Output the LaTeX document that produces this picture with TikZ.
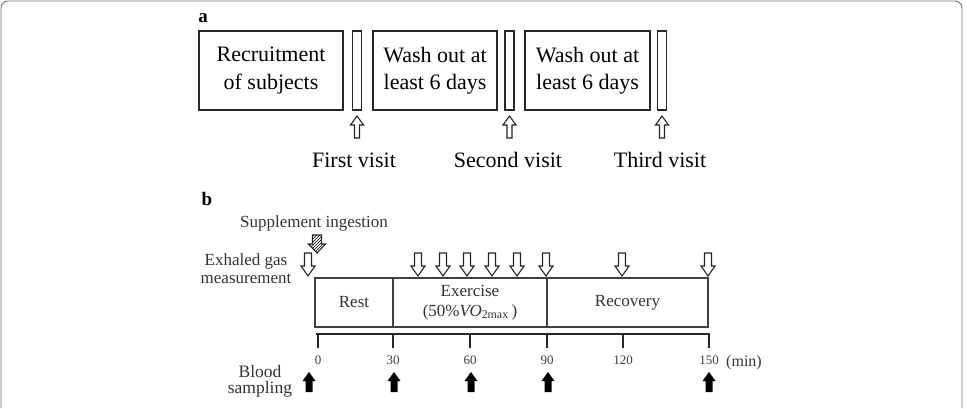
\documentclass[tikz,border=0pt]{standalone}
\usepackage{fontspec}
\setmainfont{Liberation Serif}
\usetikzlibrary{patterns}

\tikzset{
    frame/.style={draw=black!55, line width=0.9pt, rounded corners=7pt},
    panel/.style={inner sep=0pt, font=\fontsize{19}{21}\selectfont\bfseries},
    stagebox/.style={draw=black!85, line width=1.3pt, minimum height=79pt, inner sep=0pt, align=center, font=\fontsize{22}{27.5}\selectfont},
    visitbar/.style={draw=black!85, line width=1.3pt, minimum height=79pt, minimum width=9pt, inner sep=0pt},
    visitlabel/.style={inner sep=0pt, font=\fontsize{22}{26}\selectfont},
    hollowarrow/.style={draw=black!85, line width=1.1pt, fill=white, line join=miter},
    phasebox/.style={draw=black!75, line width=1.1pt, minimum height=49pt, inner sep=0pt, align=center, text=black!80, font=\fontsize{17}{19.5}\selectfont},
    textb/.style={text=black!80, align=center, inner sep=0pt, font=\fontsize{17}{18}\selectfont},
    ticklabel/.style={text=black!75, inner sep=0pt, font=\fontsize{13}{15}\selectfont},
    axis/.style={draw=black!85, line width=2.5pt},
    tick/.style={draw=black!85, line width=2pt},
}

\begin{document}
\begin{tikzpicture}[x=1pt, y=-1pt]
    \useasboundingbox (0,0) rectangle (967,408);

    % Frame
    \draw[frame] (1,408) -- (1,1) -- (962,1) -- (962,408);

    % Part a: visits
    \node[panel] (lbla) at (203,18) {a};
    \node[stagebox, minimum width=144pt] (recruit) at (271,70.5) {Recruitment\\of subjects};
    \node[visitbar] (bar1) at (357,70.5) {};
    \node[stagebox, minimum width=124pt] (wash1) at (435,70.5) {Wash out at\\least 6 days};
    \node[visitbar] (bar2) at (509.5,70.5) {};
    \node[stagebox, minimum width=125pt] (wash2) at (587.5,70.5) {Wash out at\\least 6 days};
    \node[visitbar] (bar3) at (662,70.5) {};

    % hollow arrows under the bars
    \foreach \x in {357,509.5,662} {
        \draw[hollowarrow] (\x,116) -- ++(6.5,9) -- ++(-4,0) -- ++(0,13) -- ++(-5,0) -- ++(0,-13) -- ++(-4,0) -- cycle;
    }
    \node[visitlabel] (first) at (354,160) {First visit};
    \node[visitlabel] (second) at (508,160) {Second visit};
    \node[visitlabel] (third) at (660,160) {Third visit};

    % Part b: protocol
    \node[panel] (lblb) at (207,199) {b};
    \node[textb] (suppl) at (314,223) {Supplement ingestion};
    \draw[hollowarrow, pattern=north east lines] (312.5,235) -- ++(9,0) -- ++(0,9) -- ++(4,0) -- ++(-8.5,9) -- ++(-8.5,-9) -- ++(4,0) -- cycle;
    \node[textb] (exhal) at (246,269) {Exhaled gas\\measurement};

    % gas measurements
    \foreach \x in {308,418,443,467,492,517,546,622,708} {
        \draw[hollowarrow] (\x-3.5,253) -- ++(7,0) -- ++(0,13) -- ++(3.5,0) -- ++(-7,10) -- ++(-7,-10) -- ++(3.5,0) -- cycle;
    }

    % phases
    \node[phasebox, minimum width=78pt] (rest) at (354,302.5) {Rest};
    \node[phasebox, minimum width=154pt] (exer) at (470,302.5) {Exercise\\(50\%{\itshape VO}\textsubscript{2max}\,)};
    \node[phasebox, minimum width=161pt] (recov) at (627.5,302.5) {Recovery};

    % time axis
    \draw[axis] (316,334) -- (710,334);
    \foreach \t/\x in {0/318,30/393,60/470,90/547,120/623,150/709} {
        \draw[tick] (\x,334) -- (\x,348);
        \node[ticklabel] (t\t) at (\x,360) {\t};
    }
    \node[textb, font=\fontsize{16}{18}\selectfont] (unit) at (744,363) {(min)};

    % blood sampling
    \node[textb, font=\fontsize{17.5}{16.5}\selectfont] (blood) at (260,381.5) {Blood\\sampling};
    \foreach \x in {309,394,471,548,709} {
        \fill[black] (\x,372) -- ++(6.5,9) -- ++(-3,0) -- ++(0,11) -- ++(-7,0) -- ++(0,-11) -- ++(-3,0) -- cycle;
    }
\end{tikzpicture}
\end{document}
